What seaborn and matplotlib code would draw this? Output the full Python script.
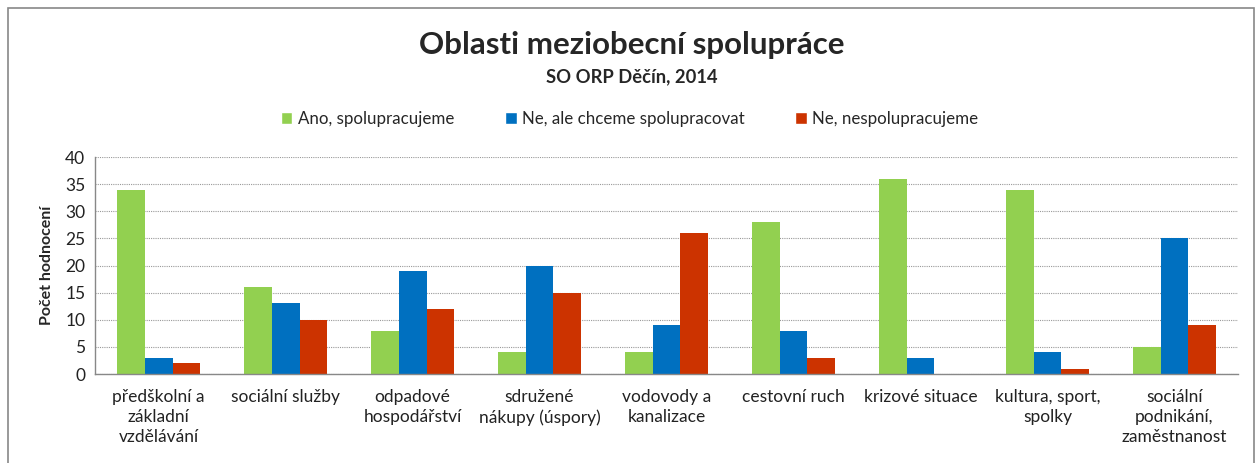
import matplotlib
matplotlib.use("Agg")
import matplotlib.pyplot as plt
import seaborn as sns
import pandas as pd
import numpy as np
from matplotlib.patches import Rectangle, Patch

categories = ["předškolní a\nzákladní\nvzdělávání", "sociální služby", "odpadové\nhospodářství",
              "sdružené\nnákupy (úspory)", "vodovody a\nkanalizace", "cestovní ruch",
              "krizové situace", "kultura, sport,\nspolky", "sociální\npodnikání,\nzaměstnanost"]
series = ["Ano, spolupracujeme", "Ne, ale chceme spolupracovat", "Ne, nespolupracujeme"]
ano = [34, 16, 8, 4, 4, 28, 36, 34, 5]
ne_chceme = [3, 13, 19, 20, 9, 8, 3, 4, 25]
ne = [2, 10, 12, 15, 26, 3, 0, 1, 9]
colors = ["#92D050", "#0070C0", "#CC3300"]

rows = []
for s, vals in zip(series, [ano, ne_chceme, ne]):
    for c, v in zip(categories, vals):
        rows.append({"kat": c, "serie": s, "val": v})
df = pd.DataFrame(rows)

sns.set_style("white")
plt.rcParams['font.family'] = ['Lato', 'DejaVu Sans']

fig = plt.figure(figsize=(12.59, 4.63), dpi=100)
ax = fig.add_axes([0.0755, 0.1922, 0.9078, 0.4687])

sns.barplot(data=df, x="kat", y="val", hue="serie", order=categories, hue_order=series,
            palette=dict(zip(series, colors)), width=0.66, gap=0, ax=ax, legend=False,
            saturation=1, linewidth=0)

ax.set_ylim(0, 40)
ax.set_xlim(-0.5, len(categories) - 0.5)
ax.set_yticks(range(0, 41, 5))
ax.yaxis.grid(True, linestyle=(0, (1, 1)), color="#999999", linewidth=0.8)
ax.set_axisbelow(True)
for s in ["top", "right"]:
    ax.spines[s].set_visible(False)
for s in ["left", "bottom"]:
    ax.spines[s].set_color("#888888")
    ax.spines[s].set_linewidth(1)
ax.tick_params(axis="y", labelsize=12.5, length=3, color="#888888", pad=4, labelcolor="#222222")
ax.set_xticks(range(len(categories)))
ax.set_xticklabels(categories, fontsize=12.5, color="#222222", linespacing=1.3)
ax.tick_params(axis="x", which="major", length=0, pad=11)
ax.set_xticks(np.arange(-0.5, len(categories), 1), minor=True)
ax.tick_params(axis="x", which="minor", length=6, color="#888888")
for lab in ax.get_xticklabels():
    lab.set_verticalalignment("top")
ax.set_xlabel("")
ax.set_ylabel("Počet hodnocení", fontsize=11.5, fontweight="bold", labelpad=8)

handles = [Patch(facecolor=c, label=s) for s, c in zip(series, colors)]
fig.legend(handles=handles, loc="center", bbox_to_anchor=(0.5, 1 - 119/463), ncol=3,
           frameon=False, fontsize=12.2, handlelength=0.7, handleheight=0.7,
           handletextpad=0.3, columnspacing=3.0)

fig.text(0.502, 1 - 45/463, "Oblasti meziobecní spolupráce", ha="center", va="center",
         fontsize=22.5, fontweight="bold")
fig.text(0.502, 1 - 77/463, "SO ORP Děčín, 2014", ha="center", va="center",
         fontsize=13.2, fontweight="bold")

fig.patches.append(Rectangle((8/1259, -0.1), (1254-8)/1259, 1.1 - 8/463 + 0.0,
                             transform=fig.transFigure, fill=False, edgecolor="#888888",
                             linewidth=1.2))

fig.savefig("out.png", dpi=100)
